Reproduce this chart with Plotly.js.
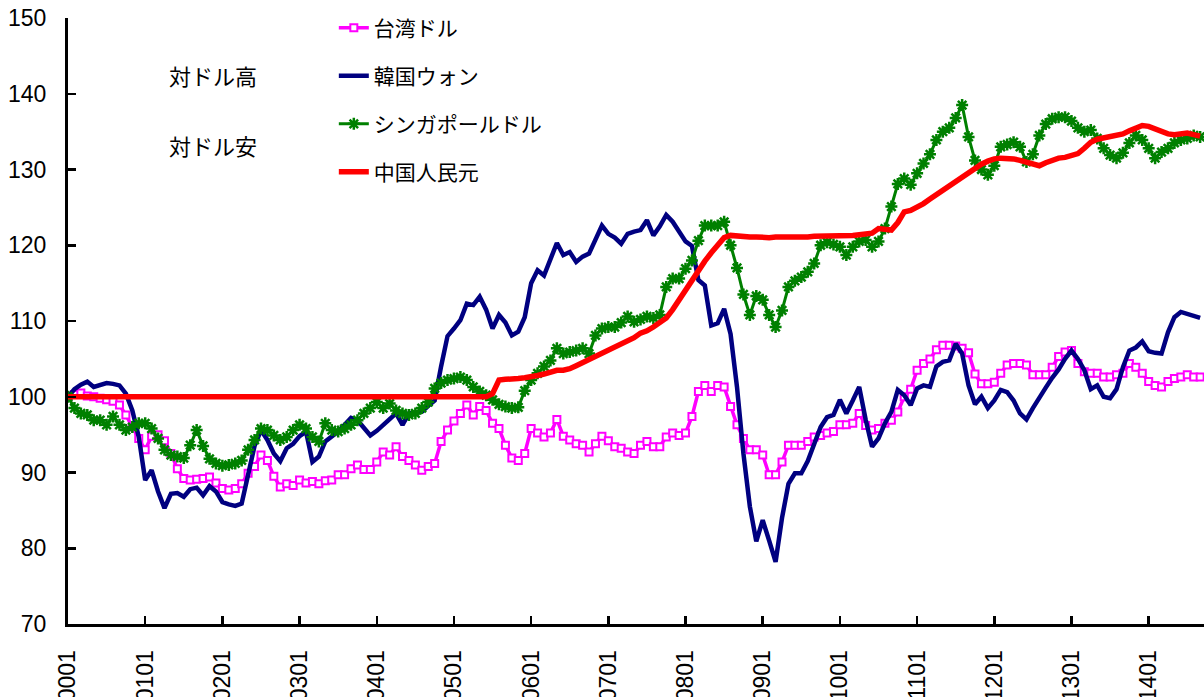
<!DOCTYPE html>
<html>
<head>
<meta charset="utf-8">
<script src="https://cdn.plot.ly/plotly-3.0.1.min.js"></script>
<style>html,body{margin:0;padding:0;background:#fff;}#chart{width:1204px;height:697px;}</style>
</head>
<body>
<div id="chart"></div>
<script>
// tick labels (yymm)
const tickLabels = ['0001','0101','0201','0301','0401','0501','0601','0701','0801','0901','1001','1101','1201','1301','1401'];
const tickPositions = [0,12,24,36,48,60,72,84,96,108,120,132,144,156,168];

// 台湾ドル (monthly index, 2000-01 = 100)
const twd = [
100.0,100.3,100.5,100.1,100.0,99.8,99.6,99.4,98.9,97.6,96.0,94.5,
93.0,94.8,95.0,94.2,92.5,90.5,89.2,89.0,89.1,89.2,89.4,88.6,
87.9,87.7,87.9,88.5,89.9,90.8,92.3,91.6,89.5,88.1,88.5,88.3,
89.0,88.6,88.8,88.5,88.9,89.0,89.7,89.7,90.5,91.0,90.4,90.4,
91.4,92.7,92.3,93.4,92.1,91.6,91.0,90.3,90.8,91.2,94.1,95.6,
96.8,97.8,98.9,97.6,98.7,98.2,96.5,95.8,93.6,91.9,91.6,92.5,
95.8,95.2,94.7,95.2,97.0,94.8,94.3,93.8,93.6,92.7,93.8,94.8,
94.2,93.4,93.2,92.7,92.5,93.6,94.1,93.4,93.4,94.7,95.2,94.9,
95.2,97.4,100.7,101.5,100.7,101.5,101.3,98.7,96.3,94.5,93.0,93.0,
92.3,89.7,89.7,91.4,93.6,93.6,93.6,94.1,94.7,94.9,95.2,95.4,
96.3,96.3,96.5,97.8,96.2,95.6,95.8,96.5,96.9,98.0,100.0,101.0,
103.5,104.4,105.0,106.2,106.8,106.8,106.7,106.4,105.8,103.0,101.7,101.7,
101.9,103.1,104.2,104.4,104.4,104.2,102.9,102.9,102.9,103.9,105.3,105.9,
106.1,104.4,103.3,103.1,103.1,102.6,102.6,102.9,103.1,104.4,103.9,103.1,
102.0,101.5,101.3,102.0,102.4,102.6,102.9,102.6,102.6
];

// 韓国ウォン
const krw = [
100.0,101.0,101.6,102.0,101.3,101.5,101.8,101.7,101.5,100.4,98.2,94.7,
89.0,90.3,87.5,85.3,87.2,87.3,86.8,87.8,88.0,87.0,88.2,87.5,
86.1,85.8,85.6,85.9,90.0,93.5,95.6,94.3,92.5,91.5,93.2,93.8,
94.8,95.4,91.4,92.1,94.1,94.8,95.4,96.3,97.2,96.9,95.8,94.9,
95.5,96.3,96.9,97.8,96.3,97.8,97.9,98.0,98.8,99.5,104.0,108.0,
109.0,110.1,112.3,112.1,113.2,111.5,109.0,110.8,109.8,108.1,108.6,110.5,
115.0,116.7,116.0,118.0,120.3,118.7,119.1,117.8,118.5,118.9,120.8,122.6,
121.5,121.0,120.2,121.5,121.8,122.0,123.3,121.3,122.5,124.0,123.1,121.8,
120.5,119.9,115.4,114.7,109.4,109.7,111.6,108.3,101.3,92.5,85.5,80.9,
83.7,81.0,78.2,84.0,88.5,89.9,89.9,91.5,93.8,96.0,97.3,97.6,
99.6,97.8,99.5,101.3,97.0,93.4,94.5,96.5,98.0,100.9,100.2,98.9,
101.1,101.5,101.3,104.0,104.6,104.8,107.0,105.7,101.5,99.0,100.0,98.5,
99.5,100.9,100.6,99.5,97.8,97.0,98.5,100.0,101.2,102.5,103.6,105.0,
106.1,105.0,103.5,101.0,101.5,100.0,99.8,101.0,103.9,106.1,106.5,107.3,
106.0,105.8,105.7,108.5,110.5,111.2,110.9,110.6,110.4
];

// シンガポールドル
const sgd = [
100.0,98.5,97.8,97.6,96.9,96.9,96.3,97.4,96.3,95.6,96.0,96.5,
96.5,95.8,94.5,93.0,92.3,92.1,91.9,93.6,95.6,93.5,91.8,91.2,
90.9,91.0,91.2,91.6,93.0,94.3,95.8,95.6,94.9,94.3,94.7,95.6,
96.3,95.8,94.7,94.1,96.5,95.6,95.4,95.8,96.3,96.9,97.8,98.5,
99.3,98.5,99.1,98.2,97.8,97.6,97.8,98.5,99.3,101.1,101.8,102.2,
102.4,102.6,102.2,101.3,100.7,100.2,99.6,99.0,98.7,98.5,98.6,100.8,
102.2,103.1,104.0,104.8,106.4,105.7,105.9,106.1,106.4,105.7,108.1,109.0,
109.2,109.2,109.8,110.6,109.9,110.2,110.6,110.4,110.8,114.5,115.6,115.6,
116.9,118.0,120.6,122.6,122.6,122.6,123.1,120.0,117.0,113.5,110.8,113.3,
112.8,110.8,109.2,111.4,114.5,115.3,115.8,116.5,117.6,120.0,120.4,120.1,
119.8,118.7,119.8,120.5,120.7,119.8,120.5,122.2,125.1,128.1,128.8,128.0,
129.5,130.8,132.0,133.9,135.0,135.5,136.8,138.5,134.3,131.2,130.0,129.3,
130.5,133.0,133.3,133.6,133.0,131.0,132.0,134.5,136.0,136.7,136.9,136.9,
136.4,135.5,135.0,135.2,134.1,132.8,131.9,131.5,132.2,133.5,134.5,133.9,
132.8,131.5,132.3,132.8,133.5,133.9,134.1,134.5,134.3
];

// 中国人民元
const cny = [
100.0,100.0,100.0,100.0,100.0,100.0,100.0,100.0,100.0,100.0,100.0,100.0,
100.0,100.0,100.0,100.0,100.0,100.0,100.0,100.0,100.0,100.0,100.0,100.0,
100.0,100.0,100.0,100.0,100.0,100.0,100.0,100.0,100.0,100.0,100.0,100.0,
100.0,100.0,100.0,100.0,100.0,100.0,100.0,100.0,100.0,100.0,100.0,100.0,
100.0,100.0,100.0,100.0,100.0,100.0,100.0,100.0,100.0,100.0,100.0,100.0,
100.0,100.0,100.0,100.0,100.0,100.0,100.4,102.2,102.3,102.3,102.4,102.5,
102.6,102.8,103.0,103.2,103.5,103.5,103.7,104.1,104.5,104.9,105.3,105.8,
106.2,106.5,106.8,107.2,107.8,108.4,108.7,109.2,109.8,110.4,111.5,112.8,
114.1,115.5,116.8,117.9,119.0,120.0,121.0,121.3,121.2,121.1,121.1,121.1,
121.0,121.0,121.1,121.1,121.0,121.0,121.1,121.1,121.2,121.2,121.2,121.2,
121.2,121.2,121.3,121.4,121.5,121.6,122.2,122.1,122.0,123.0,124.4,124.6,
125.0,125.5,126.1,126.7,127.3,127.8,128.3,128.9,129.6,130.2,130.7,131.1,
131.4,131.5,131.5,131.4,131.2,131.0,130.7,130.5,130.9,131.2,131.5,131.6,
131.8,132.1,132.8,133.6,134.0,134.2,134.3,134.5,134.7,135.1,135.5,135.8,
135.7,135.3,134.9,134.7,134.6,134.7,134.8,134.6,134.4
];

const seriesNames = ['台湾ドル','韓国ウォン','シンガポールドル','中国人民元'];
const noteLabels = ['対ドル高','対ドル安'];

const idx = (arr) => arr.map((_, i) => i);
const FONT = 'Liberation Sans, Arial, "Noto Sans CJK JP", sans-serif';

const traces = [
  {x: idx(twd), y: twd, name: seriesNames[0], type: 'scatter', mode: 'lines+markers', legendgroup: 'a',
   line: {color: '#FF00FF', width: 3.5},
   marker: {symbol: 'square', size: 7, color: '#FFFFFF', line: {color: '#FF00FF', width: 2}}},
  {x: idx(krw), y: krw, name: seriesNames[1], type: 'scatter', mode: 'lines', legendgroup: 'b',
   line: {color: '#000080', width: 4.5}},
  {x: idx(sgd), y: sgd, name: seriesNames[2], type: 'scatter', mode: 'lines+markers', legendgroup: 'c',
   line: {color: '#008000', width: 3},
   marker: {symbol: 'asterisk-open', size: 10, color: '#008000', line: {color: '#008000', width: 2.5}}},
  {x: idx(cny), y: cny, name: seriesNames[3], type: 'scatter', mode: 'lines', legendgroup: 'd',
   line: {color: '#FF0000', width: 5.5}}
];

const layout = {
  width: 1204, height: 697,
  margin: {l: 68, r: 0, t: 18, b: 73, pad: 0},
  paper_bgcolor: '#FFFFFF', plot_bgcolor: '#FFFFFF',
  font: {family: FONT, size: 23, color: '#000000'},
  showlegend: true,
  legend: {
    x: 0.234, y: 1.017, xanchor: 'left', yanchor: 'top',
    bgcolor: 'rgba(0,0,0,0)', borderwidth: 0,
    font: {family: FONT, size: 21, color: '#000000'},
    traceorder: 'grouped', tracegroupgap: 17.7
  },
  xaxis: {
    range: [0, 176.6], showgrid: false, zeroline: false,
    showline: true, linecolor: '#000000', linewidth: 3,
    ticks: 'inside', ticklen: 8, tickwidth: 2.5, tickcolor: '#000000',
    tickmode: 'array', tickvals: tickPositions, ticktext: tickLabels,
    tickangle: -90, tickfont: {family: FONT, size: 23}, ticklabelstandoff: 14
  },
  yaxis: {
    range: [70, 150], showgrid: false, zeroline: false,
    showline: true, linecolor: '#000000', linewidth: 3,
    ticks: 'inside', ticklen: 8, tickwidth: 2.5, tickcolor: '#000000',
    tickmode: 'linear', tick0: 70, dtick: 10,
    tickfont: {family: FONT, size: 23}, ticklabelstandoff: 14
  },
  annotations: [
    {x: 22.5, y: 142.1, xref: 'x', yref: 'y', text: noteLabels[0], showarrow: false,
     xanchor: 'center', yanchor: 'middle', font: {family: FONT, size: 22, color: '#000'}},
    {x: 22.5, y: 132.9, xref: 'x', yref: 'y', text: noteLabels[1], showarrow: false,
     xanchor: 'center', yanchor: 'middle', font: {family: FONT, size: 22, color: '#000'}}
  ]
};

Plotly.newPlot('chart', traces, layout, {staticPlot: true, displayModeBar: false});
</script>
</body>
</html>
